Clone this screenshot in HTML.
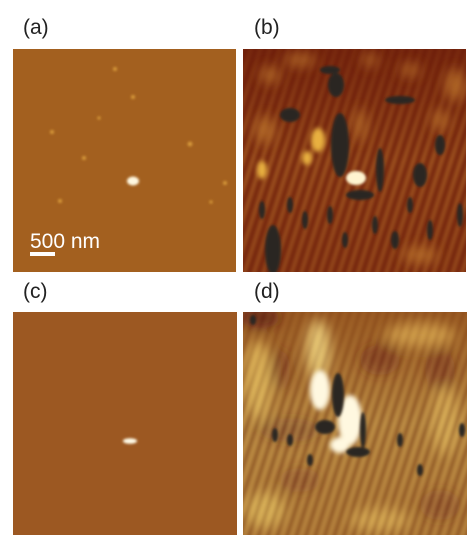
<!DOCTYPE html>
<html><head><meta charset="utf-8"><style>
body{margin:0;width:476px;height:543px;background:#fff;overflow:hidden;font-family:"Liberation Sans",sans-serif;position:relative}
.lbl{position:absolute;font-size:21px;color:#222}
svg{position:absolute;left:0;top:0}
</style></head><body>
<div class="lbl" style="left:23px;top:16px">(a)</div>
<div class="lbl" style="left:254px;top:16px">(b)</div>
<div class="lbl" style="left:23px;top:280px">(c)</div>
<div class="lbl" style="left:254px;top:280px">(d)</div>
<svg width="476" height="543">
<defs>
<filter id="b3" x="-50%" y="-50%" width="200%" height="200%"><feGaussianBlur stdDeviation="2.5"/></filter>
<filter id="b1" x="-50%" y="-50%" width="200%" height="200%"><feGaussianBlur stdDeviation="1.2"/></filter>
<filter id="b6" x="-50%" y="-50%" width="200%" height="200%"><feGaussianBlur stdDeviation="6"/></filter>
<clipPath id="cb"><rect x="243" y="49" width="223" height="223"/></clipPath>
<clipPath id="cd"><rect x="243" y="312" width="224" height="223"/></clipPath>
<linearGradient id="fade" x1="0" y1="0" x2="0" y2="1"><stop offset="0" stop-color="#fff" stop-opacity="0.25"/><stop offset="0.5" stop-color="#fff" stop-opacity="1"/><stop offset="1" stop-color="#fff" stop-opacity="0.8"/></linearGradient>
<mask id="mb"><rect x="243" y="49" width="223" height="223" fill="url(#fade)"/></mask>
<mask id="md"><rect x="243" y="312" width="224" height="223" fill="url(#fade)"/></mask>
<pattern id="stripes" width="9" height="40" patternUnits="userSpaceOnUse" patternTransform="rotate(18)">
<rect x="0" y="0" width="3.5" height="40" fill="#d08a34"/></pattern>
<pattern id="stripesD" width="9" height="40" patternUnits="userSpaceOnUse" patternTransform="rotate(18)">
<rect x="0" y="0" width="4" height="40" fill="#f0d070"/><rect x="5" y="0" width="3" height="40" fill="#6a1e0c"/></pattern>
</defs>
<!-- panel a -->
<g>
<rect x="13" y="49" width="223" height="223" fill="#a3601f"/>
<g filter="url(#b1)" fill="#d79a3a">
<circle cx="115" cy="69" r="2"/><circle cx="133" cy="97" r="2"/><circle cx="99" cy="118" r="1.6"/><circle cx="52" cy="132" r="2"/><circle cx="190" cy="144" r="2.4"/><circle cx="84" cy="158" r="2"/><circle cx="225" cy="183" r="2"/><circle cx="60" cy="201" r="2"/><circle cx="211" cy="202" r="1.6"/>
</g>
<ellipse cx="133" cy="181" rx="6" ry="4.5" fill="#fff8e0" filter="url(#b1)"/>
<text x="30" y="248" font-size="21" fill="#fff" font-family="Liberation Sans, sans-serif">500 nm</text>
<rect x="30" y="252" width="25" height="4" fill="#fff"/>
</g>
<!-- panel b -->
<g clip-path="url(#cb)">
<rect x="243" y="49" width="223" height="223" fill="#6c1c0a"/>
<g filter="url(#b3)" mask="url(#mb)" opacity="0.75"><rect x="230" y="40" width="250" height="240" fill="url(#stripes)"/></g>
<g filter="url(#b6)" fill="#b8702a" opacity="0.85">
<ellipse cx="265" cy="130" rx="10" ry="14"/><ellipse cx="455" cy="85" rx="10" ry="16"/><ellipse cx="300" cy="60" rx="16" ry="6"/><ellipse cx="420" cy="255" rx="18" ry="8"/><ellipse cx="360" cy="125" rx="6" ry="16"/>
<ellipse cx="270" cy="75" rx="10" ry="8"/><ellipse cx="410" cy="70" rx="10" ry="6"/><ellipse cx="440" cy="120" rx="8" ry="10"/><ellipse cx="370" cy="60" rx="8" ry="6"/>
</g>
<g filter="url(#b3)" fill="#e8b040">
<ellipse cx="318" cy="140" rx="7" ry="12"/><ellipse cx="307" cy="158" rx="5" ry="7"/><ellipse cx="262" cy="170" rx="5" ry="9"/>
</g>
<ellipse cx="356" cy="178" rx="10" ry="7" fill="#fff4d0" filter="url(#b1)"/>
<g filter="url(#b1)" fill="#2a2624">
<ellipse cx="340" cy="145" rx="9" ry="32"/><ellipse cx="336" cy="85" rx="8" ry="12"/><ellipse cx="290" cy="115" rx="10" ry="7"/><ellipse cx="273" cy="250" rx="8" ry="25"/>
<ellipse cx="360" cy="195" rx="14" ry="5"/><ellipse cx="380" cy="170" rx="4" ry="22"/><ellipse cx="420" cy="175" rx="7" ry="12"/><ellipse cx="440" cy="145" rx="5" ry="10"/>
<ellipse cx="400" cy="100" rx="15" ry="4"/><ellipse cx="330" cy="70" rx="10" ry="4"/>
<ellipse cx="262" cy="210" rx="3" ry="9"/><ellipse cx="290" cy="205" rx="3" ry="8"/><ellipse cx="305" cy="220" rx="3" ry="9"/><ellipse cx="330" cy="215" rx="3" ry="9"/><ellipse cx="345" cy="240" rx="3" ry="8"/><ellipse cx="375" cy="225" rx="3" ry="9"/><ellipse cx="395" cy="240" rx="4" ry="9"/><ellipse cx="430" cy="230" rx="3" ry="10"/><ellipse cx="460" cy="215" rx="3" ry="12"/><ellipse cx="410" cy="205" rx="3" ry="8"/>
</g>
</g>
<!-- panel c -->
<g>
<rect x="13" y="312" width="224" height="223" fill="#9c5822"/>
<ellipse cx="130" cy="441" rx="7" ry="2.8" fill="#fffbe8" filter="url(#b1)"/>
</g>
<!-- panel d -->
<g clip-path="url(#cd)">
<rect x="243" y="312" width="224" height="223" fill="#8e4a18"/>
<g filter="url(#b6)">
<ellipse cx="258" cy="380" rx="14" ry="40" fill="#d8a850"/><ellipse cx="318" cy="350" rx="12" ry="30" fill="#e8c878"/><ellipse cx="420" cy="335" rx="35" ry="12" fill="#c89040"/>
<ellipse cx="445" cy="420" rx="14" ry="35" fill="#c89040"/><ellipse cx="265" cy="510" rx="20" ry="18" fill="#d0a048"/><ellipse cx="380" cy="520" rx="30" ry="12" fill="#c89040"/>
<ellipse cx="380" cy="360" rx="20" ry="15" fill="#6a1e0c"/><ellipse cx="290" cy="430" rx="30" ry="12" fill="#5a180a"/><ellipse cx="260" cy="318" rx="20" ry="10" fill="#5a180a"/>
<ellipse cx="440" cy="370" rx="15" ry="20" fill="#6a1e0c"/><ellipse cx="300" cy="480" rx="20" ry="12" fill="#6a1e0c"/><ellipse cx="440" cy="505" rx="20" ry="15" fill="#6a1e0c"/><ellipse cx="280" cy="370" rx="10" ry="20" fill="#6a1e0c"/>
</g>
<g filter="url(#b3)" mask="url(#md)" opacity="0.7"><rect x="230" y="300" width="250" height="250" fill="url(#stripesD)"/></g>
<g filter="url(#b3)" fill="#fff8e0">
<ellipse cx="320" cy="390" rx="10" ry="20"/><ellipse cx="350" cy="420" rx="12" ry="25"/><ellipse cx="340" cy="445" rx="10" ry="8"/>
</g>
<g filter="url(#b1)" fill="#2a2624">
<ellipse cx="338" cy="395" rx="6" ry="22"/><ellipse cx="325" cy="427" rx="10" ry="7"/><ellipse cx="358" cy="452" rx="12" ry="5"/><ellipse cx="363" cy="430" rx="3" ry="18"/>
<ellipse cx="275" cy="435" rx="3" ry="7"/><ellipse cx="290" cy="440" rx="3" ry="6"/><ellipse cx="310" cy="460" rx="3" ry="6"/><ellipse cx="400" cy="440" rx="3" ry="7"/><ellipse cx="420" cy="470" rx="3" ry="6"/><ellipse cx="462" cy="430" rx="3" ry="7"/><ellipse cx="253" cy="320" rx="3" ry="5"/>
</g>
</g>
</svg>
</body></html>
